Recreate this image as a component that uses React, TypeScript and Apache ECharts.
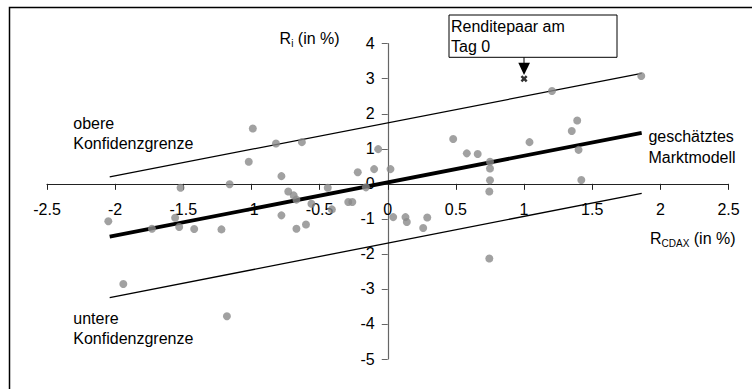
import React, { useEffect, useRef } from "react";
import * as echarts from "echarts";

// scatter of daily return pairs (R_CDAX, R_i) in %
const pointsX = [
  -2.05, -1.94, -1.73, -1.56, -1.53, -1.52, -1.42, -1.22, -1.18, -1.16,
  -1.02, -0.99, -0.82, -0.78, -0.78, -0.73, -0.69, -0.67, -0.67, -0.63,
  -0.6, -0.56, -0.44, -0.41, -0.29, -0.26, -0.22, -0.16, -0.1, -0.07,
  0.02, 0.04, 0.13, 0.14, 0.26, 0.29, 0.48, 0.58, 0.66, 0.75,
  0.75, 0.75, 0.745, 0.745, 1.04, 1.205, 1.35, 1.39, 1.4, 1.42, 1.86,
];
const pointsY = [
  -1.07, -2.86, -1.28, -0.97, -1.23, -0.11, -1.29, -1.3, -3.78, -0.01,
  0.63, 1.58, 1.15, 0.22, -0.9, -0.22, -0.33, -0.45, -1.28, 1.19,
  -1.16, -0.57, -0.11, -0.73, -0.52, -0.52, 0.33, -0.1, 0.42, 0.99,
  0.42, -0.95, -0.95, -1.09, -1.26, -0.96, 1.28, 0.87, 0.85, 0.63,
  0.44, 0.1, -0.22, -2.13, 1.19, 2.65, 1.51, 1.81, 0.97, 0.11, 3.08,
];
// event day return pair
const eventPoint = [1.0, 3.0];
// estimated market model and confidence bounds (endpoints)
const lineX = [-2.04, 1.863];
const modelY = [-1.51, 1.456];
const upperY = [0.2, 3.15];
const lowerY = [-3.25, -0.27];

const xTicks = { min: -2.5, max: 2.5, interval: 0.5 };
const yTicks = { min: -5, max: 4, interval: 1 };

const FONT = "Liberation Sans, Arial, sans-serif";

const GRID = { left: 47, right: 23.5, top: 43.7, bottom: 30 };
const W = 752;
const H = 389;

export default function App() {
  const ref = useRef<HTMLDivElement>(null);
  useEffect(() => {
    if (!ref.current) return;
    const chart = echarts.init(ref.current, undefined, { renderer: "svg" });
    const scatter = pointsX.map((x, i) => [x, pointsY[i]]);
    const mk = (ys: number[]) => lineX.map((x, i) => [x, ys[i]]);
    const txt = (text: string, x: number, y: number) => ({
      type: "text",
      x,
      y,
      style: { text, fill: "#000", font: `16px ${FONT}`, verticalAlign: "middle", align: "left" },
    });
    // axes cross at (0,0): offsets derived from the axis ranges
    const plotW = W - GRID.left - GRID.right;
    const plotH = H - GRID.top - GRID.bottom;
    const xZeroFrac = (0 - xTicks.min) / (xTicks.max - xTicks.min);
    const yZeroFrac = (0 - yTicks.min) / (yTicks.max - yTicks.min);
    chart.setOption({
      animation: false,
      textStyle: { fontFamily: FONT },
      grid: GRID,
      xAxis: {
        type: "value",
        min: xTicks.min,
        max: xTicks.max,
        interval: xTicks.interval,
        offset: -plotH * yZeroFrac,
        axisLine: { onZero: false, lineStyle: { color: "#222", width: 1.2 } },
        axisTick: { show: true, length: 6, lineStyle: { color: "#222" } },
        axisLabel: { color: "#000", fontSize: 16, margin: 18, fontFamily: FONT },
        splitLine: { show: false },
      },
      yAxis: {
        type: "value",
        min: yTicks.min,
        max: yTicks.max,
        interval: yTicks.interval,
        offset: -plotW * xZeroFrac,
        axisLine: { show: true, onZero: false, lineStyle: { color: "#666", width: 1.2 } },
        axisTick: { show: true, length: 6, lineStyle: { color: "#666" } },
        axisLabel: { color: "#000", fontSize: 16, margin: 13, fontFamily: FONT },
        splitLine: { show: false },
      },
      series: [
        {
          type: "line",
          data: mk(upperY),
          symbol: "none",
          lineStyle: { color: "#000", width: 1.3 },
          z: 2,
        },
        {
          type: "line",
          data: mk(lowerY),
          symbol: "none",
          lineStyle: { color: "#000", width: 1.3 },
          z: 2,
        },
        {
          type: "line",
          data: mk(modelY),
          symbol: "none",
          lineStyle: { color: "#000", width: 3.8 },
          z: 2,
        },
        {
          type: "scatter",
          data: scatter,
          symbol: "circle",
          symbolSize: 8,
          itemStyle: { color: "#8a8a8a" },
          z: 3,
        },
        {
          type: "scatter",
          data: [eventPoint],
          symbol: "path://M0 2.5L2.5 0L5 2.5L7.5 0L10 2.5L7.5 5L10 7.5L7.5 10L5 7.5L2.5 10L0 7.5L2.5 5Z",
          symbolSize: 7,
          itemStyle: { color: "#000" },
          z: 4,
        },
      ],
      graphic: [
        {
          type: "rect",
          shape: { x: 9.5, y: 7.5, width: 800, height: 500 },
          style: { fill: "none", stroke: "#000", lineWidth: 1.5 },
          silent: true,
        },
        {
          type: "rect",
          shape: { x: 449, y: 15, width: 168, height: 42.3 },
          style: { fill: "#fff", stroke: "#000", lineWidth: 1 },
        },
        txt("Renditepaar am", 451, 26.2),
        txt("Tag 0", 451, 46.8),
        {
          type: "line",
          shape: { x1: 524, y1: 57.3, x2: 524, y2: 63 },
          style: { stroke: "#000", lineWidth: 1 },
        },
        {
          type: "polygon",
          shape: { points: [[518.3, 62.7], [530, 62.7], [524, 75]] },
          style: { fill: "#000" },
        },
        txt("obere", 73.3, 123.5),
        txt("Konfidenzgrenze", 73.3, 143.8),
        txt("untere", 73.3, 318.5),
        txt("Konfidenzgrenze", 73.3, 338.8),
        txt("geschätztes", 648.4, 136.2),
        txt("Marktmodell", 648.4, 157),
        {
          type: "text",
          x: 279.6,
          y: 38.8,
          style: {
            text: "{a|R}{b|i}{a| (in %)}",
            verticalAlign: "middle",
            align: "left",
            rich: {
              a: { fontSize: 16, fontFamily: FONT, fill: "#000", lineHeight: 20 },
              b: { fontSize: 10, fontFamily: FONT, fill: "#000", verticalAlign: "bottom", lineHeight: 18 },
            },
          },
        },
        {
          type: "text",
          x: 650,
          y: 238.2,
          style: {
            text: "{a|R}{b|CDAX}{a| (in %)}",
            verticalAlign: "middle",
            align: "left",
            rich: {
              a: { fontSize: 16, fontFamily: FONT, fill: "#000", lineHeight: 20 },
              b: { fontSize: 10, fontFamily: FONT, fill: "#000", verticalAlign: "bottom", lineHeight: 18 },
            },
          },
        },
      ],
    });
    return () => chart.dispose();
  }, []);
  return (
    <div
      ref={ref}
      style={{ position: "fixed", left: 0, top: 0, width: W, height: H, background: "#fff" }}
    />
  );
}
